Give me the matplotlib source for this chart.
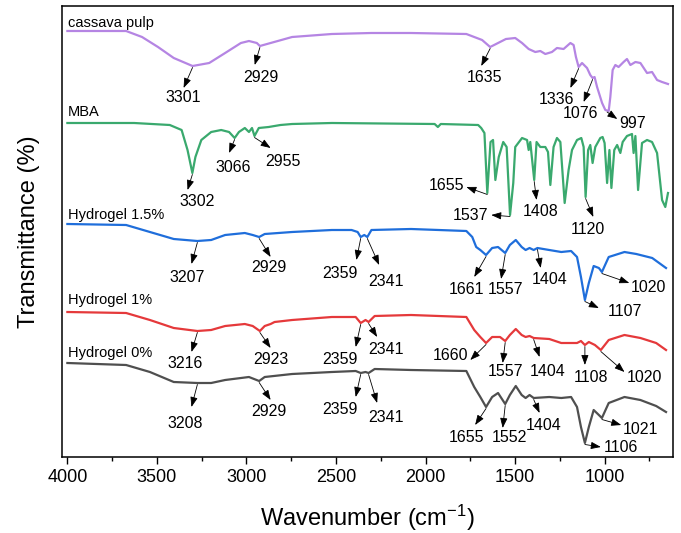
import numpy as np
import matplotlib
matplotlib.use("Agg")
import matplotlib.pyplot as plt
from matplotlib.ticker import MultipleLocator

plt.rcParams['font.family'] = ['Liberation Sans', 'DejaVu Sans']
plt.rcParams['mathtext.fontset'] = 'custom'
plt.rcParams['mathtext.rm'] = 'Liberation Sans'
plt.rcParams['mathtext.it'] = 'Liberation Sans:italic'

# ---------------- data (wavenumber cm-1, transmittance in stacked a.u.) ----------------
wn_cassava = [4000, 3672, 3583, 3494, 3406, 3301, 3208, 3119, 3031, 2986, 2942, 2925, 2865, 2745,
              2523, 2303, 2081, 1772, 1684, 1639, 1595, 1551, 1499, 1461, 1424, 1387, 1359, 1331,
              1294, 1266, 1229, 1191, 1173, 1160, 1145, 1126, 1098, 1080, 1067, 1056, 1042, 1014,
              996, 977, 968, 955, 940, 922, 894, 875, 856, 828, 800, 763, 735, 707, 679, 646]
t_cassava = [426, 426, 420, 410, 399, 391, 394, 404, 414, 416, 414, 411, 414, 420,
             423, 424, 424, 423, 417, 410, 414, 418, 419, 414, 408, 405, 406, 403,
             405, 409, 408, 414, 412, 400, 390, 394, 389, 382, 379, 380, 370, 354,
             347, 346, 360, 387, 392, 390, 395, 398, 392, 395, 394, 384, 385, 377, 375, 373]

wn_mba = [4000, 3627, 3428, 3362, 3329, 3302, 3285, 3252, 3197, 3141, 3097, 3066, 3042, 3009,
          2986, 2969, 2955, 2931, 2876, 2810, 2745, 2523, 1949, 1931, 1915, 1706, 1689, 1671,
          1655, 1637, 1623, 1610, 1591, 1566, 1547, 1528, 1510, 1499, 1461, 1433, 1424, 1415,
          1393, 1380, 1359, 1331, 1316, 1303, 1285, 1266, 1247, 1223, 1201, 1182, 1154, 1130,
          1117, 1106, 1092, 1080, 1067, 1052, 1024, 1011, 1000, 986, 973, 962, 946, 930,
          912, 899, 875, 847, 838, 828, 813, 791, 763, 735, 707, 679, 661, 646]
t_mba = [334, 334, 332, 327, 307, 284, 300, 317, 325, 327, 325, 319, 325, 329,
         325, 329, 321, 329, 330, 332, 333, 334, 333, 330, 333, 332, 329, 324,
         264, 315, 317, 277, 300, 315, 310, 242, 274, 310, 319, 317, 307, 315,
         277, 315, 310, 310, 305, 272, 310, 319, 315, 254, 287, 307, 317, 319,
         310, 260, 307, 312, 294, 310, 319, 320, 314, 274, 307, 269, 307, 312,
         304, 315, 321, 323, 304, 321, 267, 314, 317, 315, 304, 257, 250, 264]

wn_h15 = [4000, 3672, 3539, 3406, 3274, 3197, 3119, 3009, 2965, 2929, 2898, 2745, 2523, 2413,
          2379, 2362, 2342, 2325, 2302, 2081, 1772, 1739, 1717, 1694, 1662, 1628, 1595, 1555,
          1529, 1496, 1463, 1441, 1419, 1396, 1375, 1309, 1242, 1187, 1154, 1132, 1110, 1088,
          1061, 1032, 1015, 977, 889, 823, 734, 657]
t_h15 = [233, 232, 225, 218, 216, 217, 222, 224, 222, 220, 223, 225, 227, 227,
         225, 220, 222, 220, 227, 228, 226, 220, 210, 207, 202, 209, 210, 204,
         212, 217, 210, 207, 209, 207, 209, 207, 205, 206, 200, 180, 157, 174,
         191, 189, 185, 200, 205, 203, 199, 189]

wn_h1 = [4000, 3672, 3539, 3406, 3274, 3197, 3119, 3009, 2965, 2925, 2898, 2865, 2843, 2745,
         2523, 2390, 2362, 2335, 2318, 2284, 2081, 1772, 1728, 1694, 1662, 1628, 1584, 1555,
         1529, 1496, 1463, 1441, 1419, 1396, 1309, 1242, 1198, 1154, 1132, 1110, 1088, 1054,
         1021, 977, 889, 800, 712, 657]
t_h1 = [145, 144, 137, 129, 126, 127, 131, 133, 131, 126, 131, 133, 135, 137,
        140, 140, 134, 137, 135, 141, 142, 140, 127, 120, 114, 120, 120, 116,
        122, 128, 122, 120, 121, 119, 118, 114, 114, 114, 116, 112, 115, 112,
        107, 117, 122, 119, 114, 107]

wn_h0 = [4000, 3672, 3539, 3406, 3274, 3197, 3119, 2986, 2929, 2898, 2745, 2523, 2390, 2362,
         2335, 2318, 2284, 2081, 1772, 1728, 1694, 1662, 1628, 1595, 1555, 1529, 1496, 1463,
         1441, 1419, 1396, 1309, 1242, 1187, 1154, 1132, 1110, 1088, 1061, 1032, 1015, 977,
         889, 800, 712, 657]
t_h0 = [94, 92, 85, 75, 74, 74, 77, 80, 76, 80, 83, 85, 86, 84,
        85, 84, 88, 87, 86, 70, 60, 50, 60, 64, 53, 62, 71, 62,
        59, 62, 59, 60, 59, 60, 50, 30, 14, 30, 47, 42, 39, 54,
        60, 57, 51, 45]

series_names = ["cassava pulp", "MBA", "Hydrogel 1.5%", "Hydrogel 1%", "Hydrogel 0%"]
series_colors = ["#B585E3", "#3AA96E", "#1F6EDB", "#E5393B", "#4F4F4F"]

# annotations: (label, peak wn, arrow-head wn, arrow-head T, text wn, text T)
ann_cassava = [("3301", 3301, 3351, 369, 3351, 359), ("2929", 2925, 2954, 392, 2921, 379),
               ("1635", 1639, 1689, 391, 1672, 380), ("1336", 1145, 1191, 369, 1266, 357),
               ("1076", 1067, 1117, 355, 1136, 343), ("997", 986, 929, 338, 845, 333)]
ann_mba = [("3302", 3302, 3329, 267, 3274, 255), ("3066", 3066, 3097, 304, 3075, 289),
           ("2955", 2955, 2865, 309, 2799, 295), ("1655", 1655, 1772, 270, 1883, 272),
           ("1537", 1528, 1633, 242, 1747, 242), ("1408", 1393, 1380, 257, 1357, 245),
           ("1120", 1106, 1063, 240, 1091, 227)]
ann_h15 = [("3207", 3274, 3307, 193, 3329, 179), ("2929", 2929, 2865, 200, 2876, 189),
           ("2359", 2362, 2386, 197, 2479, 184), ("2341", 2325, 2259, 192, 2218, 176),
           ("1661", 1662, 1728, 180, 1772, 167), ("1557", 1555, 1578, 178, 1551, 167),
           ("1404", 1375, 1357, 189, 1309, 177), ("1020", 1015, 862, 174, 756, 170),
           ("1107", 1110, 1032, 149, 884, 145)]
ann_h1 = [("3216", 3274, 3307, 105, 3340, 94), ("2923", 2925, 2865, 109, 2865, 97),
          ("2359", 2362, 2390, 110, 2479, 97), ("2341", 2318, 2270, 120, 2218, 107),
          ("1660", 1662, 1750, 97, 1860, 101), ("1557", 1555, 1569, 94, 1551, 85),
          ("1404", 1396, 1363, 100, 1319, 85), ("1108", 1110, 1110, 92, 1076, 80),
          ("1020", 1021, 889, 85, 778, 79)]
ann_h0 = [("3208", 3274, 3307, 50, 3340, 34), ("2929", 2929, 2865, 57, 2876, 45),
          ("2359", 2362, 2390, 60, 2479, 48), ("2341", 2318, 2270, 54, 2218, 39),
          ("1655", 1662, 1723, 32, 1772, 20), ("1552", 1555, 1569, 29, 1529, 19),
          ("1404", 1396, 1363, 44, 1342, 32), ("1021", 1015, 907, 32, 800, 28),
          ("1106", 1110, 1021, 10, 911, 9)]

label_T = [434.5, 345.3, 242, 157, 104.3]

# ---------------- plotting ----------------
fig = plt.figure(figsize=(6.81, 5.33), dpi=100)
ax = fig.add_axes([62 / 681, 1 - 457 / 533, 611 / 681, 451 / 533])

series = [(wn_cassava, t_cassava, ann_cassava), (wn_mba, t_mba, ann_mba),
          (wn_h15, t_h15, ann_h15), (wn_h1, t_h1, ann_h1), (wn_h0, t_h0, ann_h0)]

arrow_kw = dict(arrowstyle='-|>,head_length=0.6,head_width=0.22', color='black', lw=0.6,
                shrinkA=0, shrinkB=0, mutation_scale=10)

for (wn, t, anns), name, color, lt in zip(series, series_names, series_colors, label_T):
    wn = np.asarray(wn, float)
    t = np.asarray(t, float)
    ax.plot(wn, t, color=color, lw=1.6, solid_joinstyle='round')
    ax.text(3998, lt, name, fontsize=10.5, ha='left', va='center', color='black')
    for lab, pk, hx, hy, tx, ty in anns:
        py = np.interp(pk, wn[::-1], t[::-1]) - 1.5
        ax.annotate('', xy=(hx, hy), xytext=(pk, py), arrowprops=arrow_kw)
        ax.text(tx, ty, lab, fontsize=11.5, ha='center', va='center', color='black')

ax.set_xlim(4030, 618)
ax.set_ylim(0, 451)
ax.set_yticks([])
ax.xaxis.set_major_locator(MultipleLocator(500))
ax.xaxis.set_minor_locator(MultipleLocator(250))
ax.tick_params(axis='x', which='major', direction='out', length=5, width=1.0, labelsize=13, pad=4)
ax.tick_params(axis='x', which='minor', direction='out', length=3.2, width=1.0)
for s in ax.spines.values():
    s.set_linewidth(1.1)

ax.set_xlabel("Wavenumber (cm$^{-1}$)", fontsize=17, labelpad=12)
ax.set_ylabel("Transmittance (%)", fontsize=17)
ax.yaxis.set_label_coords(-0.036, 0.5)

fig.savefig("out.png", dpi=100)
